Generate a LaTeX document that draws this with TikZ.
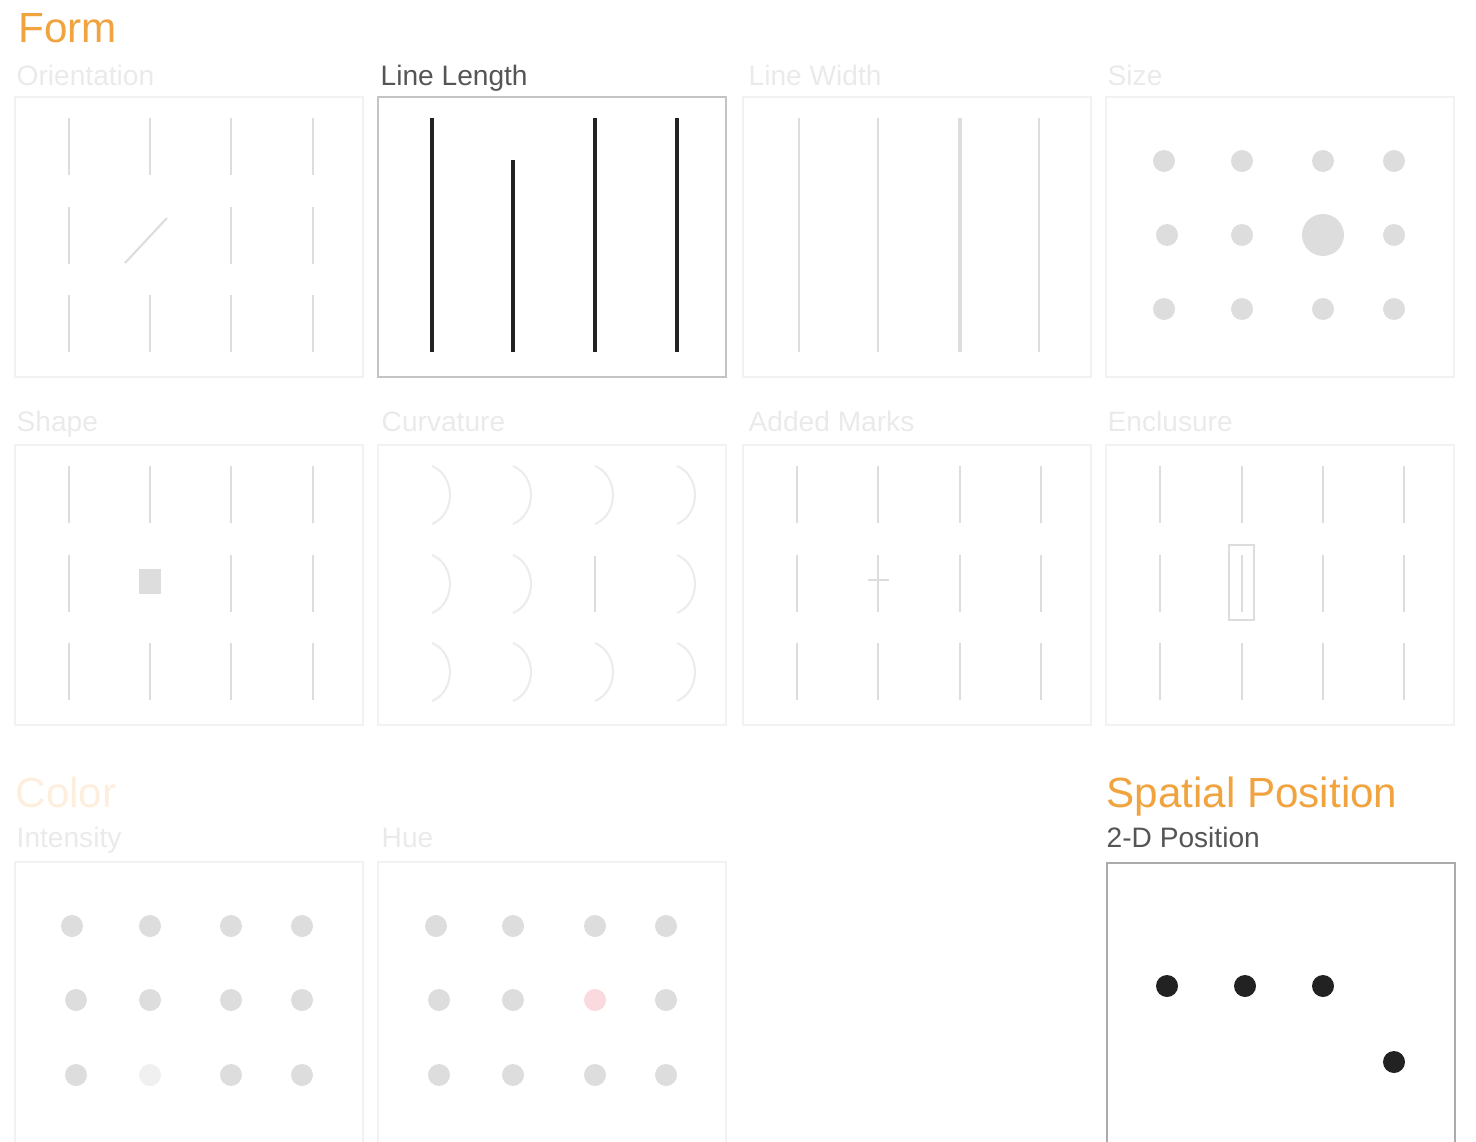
\documentclass[tikz,border=0pt]{standalone}
\usepackage{fontspec}
\setmainfont{Liberation Sans}
\definecolor{Titlecol}{HTML}{F0A33E}
\definecolor{Titlefade}{HTML}{FDEEDD}
\definecolor{Textcol}{HTML}{555555}
\definecolor{Fadecol}{HTML}{EAEAEA}
\definecolor{Markcol}{HTML}{DDDDDD}
\definecolor{Lightcol}{HTML}{F0F0F0}
\definecolor{Framecol}{HTML}{F2F2F2}
\definecolor{Boxcol}{HTML}{ABABAB}
\definecolor{Inkcol}{HTML}{222222}
\definecolor{Pinkcol}{HTML}{FADADF}
\usetikzlibrary{positioning}
\tikzset{
    font=\fontsize{8}{10}\selectfont,
    title/.style={anchor=base west, inner sep=0pt, font=\fontsize{12}{14}\selectfont, text=Titlecol},
    cuelabel/.style={anchor=base west, inner sep=0pt, text=Fadecol},
    panelbox/.style={draw=Framecol, line width=0.3pt},
    bar/.style={draw=Markcol, line width=0.6pt},
    inkbar/.style={draw=Inkcol, line width=1.05pt},
    dotmark/.style={fill=Markcol}
}

\begin{document}
\begin{tikzpicture}[x=0.1mm, y=-0.1mm]
    \useasboundingbox (0,0) rectangle (1476,1142);
    \def\r{11}

    % Form
    \node[title] (form) at (18,43) {Form};
    \node[cuelabel] (orient) at (16,85) {Orientation};
    \node[cuelabel, text=Textcol] (length) at (380,85) {Line Length};
    \node[cuelabel] (width) at (748,85) {Line Width};
    \node[cuelabel] (size) at (1107,85) {Size};
    \node[cuelabel] (shape) at (16,431) {Shape};
    \node[cuelabel] (curv) at (381,431) {Curvature};
    \node[cuelabel] (marks) at (748,431) {Added Marks};
    \node[cuelabel] (encl) at (1107,431) {Enclusure};

    % Orientation
    \begin{scope}[shift={(15,97)}]
        \draw[panelbox] (0,0) rectangle (348,280);
        \foreach \x in {54,216,298}
            \foreach \y in {21,110,198}
                \draw[bar] (\x,\y) -- ++(0,57);
        \draw[bar] (135,21) -- ++(0,57);
        \draw[bar] (135,198) -- ++(0,57);
        \draw[bar] (110,166) -- (152,121);
    \end{scope}

    % Line Length
    \begin{scope}[shift={(378,97)}]
        \draw[panelbox, draw=Boxcol!70] (0,0) rectangle (348,280);
        \foreach \x/\t in {54/21, 135/63, 217/21, 299/21}
            \draw[inkbar] (\x,\t) -- (\x,255);
    \end{scope}

    % Line Width
    \begin{scope}[shift={(743,97)}]
        \draw[panelbox] (0,0) rectangle (348,280);
        \foreach \x/\w in {56/0.35, 135/0.35, 217/1.2, 296/0.35}
            \draw[bar, line width=\w pt] (\x,21) -- (\x,255);
    \end{scope}

    % Size
    \begin{scope}[shift={(1106,97)}]
        \draw[panelbox] (0,0) rectangle (348,280);
        \foreach \x in {58,136,217,288}
            \foreach \y in {64,212}
                \fill[dotmark] (\x,\y) circle (\r);
        \foreach \x in {61,136,288}
            \fill[dotmark] (\x,138) circle (\r);
        \fill[dotmark] (217,138) circle (21);
    \end{scope}

    % Shape
    \begin{scope}[shift={(15,445)}]
        \draw[panelbox] (0,0) rectangle (348,280);
        \foreach \x in {54,216,298}
            \foreach \y in {21,110,198}
                \draw[bar] (\x,\y) -- ++(0,57);
        \draw[bar] (135,21) -- ++(0,57);
        \draw[bar] (135,198) -- ++(0,57);
        \fill[dotmark] (124,124) rectangle (146,149);
    \end{scope}

    % Curvature
    \begin{scope}[shift={(378,445)}]
        \draw[panelbox] (0,0) rectangle (348,280);
        \foreach \x in {54,135,217,299}
            \foreach \y in {21,198}
                \draw[bar, draw=Lightcol!80!Markcol] (\x,\y) .. controls (\x+24,\y+10) and (\x+24,\y+48) .. (\x,\y+58);
        \foreach \x in {54,135,299}
            \draw[bar, draw=Lightcol!80!Markcol] (\x,110) .. controls (\x+24,120) and (\x+24,158) .. (\x,168);
        \draw[bar] (217,111) -- (217,167);
    \end{scope}

    % Added Marks
    \begin{scope}[shift={(743,445)}]
        \draw[panelbox] (0,0) rectangle (348,280);
        \foreach \x in {54,135,217,298}
            \foreach \y in {21,110,198}
                \draw[bar] (\x,\y) -- ++(0,57);
        \draw[bar, line width=0.4pt] (125,135) -- (146,135);
    \end{scope}

    % Enclosure
    \begin{scope}[shift={(1106,445)}]
        \draw[panelbox] (0,0) rectangle (348,280);
        \foreach \x in {54,136,217,298}
            \foreach \y in {21,110,198}
                \draw[bar] (\x,\y) -- ++(0,57);
        \draw[bar, line width=0.45pt] (123,100) rectangle (148,175);
    \end{scope}

    % Color
    \node[title, text=Titlefade] (color) at (15,807) {Color};
    \node[cuelabel] (intens) at (16,847) {Intensity};
    \node[cuelabel] (hue) at (381,847) {Hue};

    % Intensity
    \begin{scope}[shift={(15,862)}]
        \draw[panelbox] (0,280) -- (0,0) -- (348,0) -- (348,280);
        \foreach \x in {57,135,216,287}
            \fill[dotmark] (\x,64) circle (\r);
        \foreach \x in {61,135,216,287}
            \fill[dotmark] (\x,138) circle (\r);
        \foreach \x in {61,216,287}
            \fill[dotmark] (\x,213) circle (\r);
        \fill[Lightcol] (135,213) circle (\r);
    \end{scope}

    % Hue
    \begin{scope}[shift={(378,862)}]
        \draw[panelbox] (0,280) -- (0,0) -- (348,0) -- (348,280);
        \foreach \x in {58,135,217,288}
            \fill[dotmark] (\x,64) circle (\r);
        \foreach \x in {61,135,288}
            \fill[dotmark] (\x,138) circle (\r);
        \foreach \x in {61,135,217,288}
            \fill[dotmark] (\x,213) circle (\r);
        \fill[Pinkcol] (217,138) circle (\r);
    \end{scope}

    % Spatial Position
    \node[title] (spatial) at (1106,807) {Spatial Position};
    \node[cuelabel, text=Textcol] (twod) at (1106,847) {2-D Position};
    \begin{scope}[shift={(1107,863)}]
        \draw[panelbox, draw=Boxcol] (0,280) -- (0,0) -- (348,0) -- (348,280);
        \foreach \x in {60,138,216}
            \fill[Inkcol] (\x,123) circle (\r);
        \fill[Inkcol] (287,199) circle (\r);
    \end{scope}
\end{tikzpicture}
\end{document}
